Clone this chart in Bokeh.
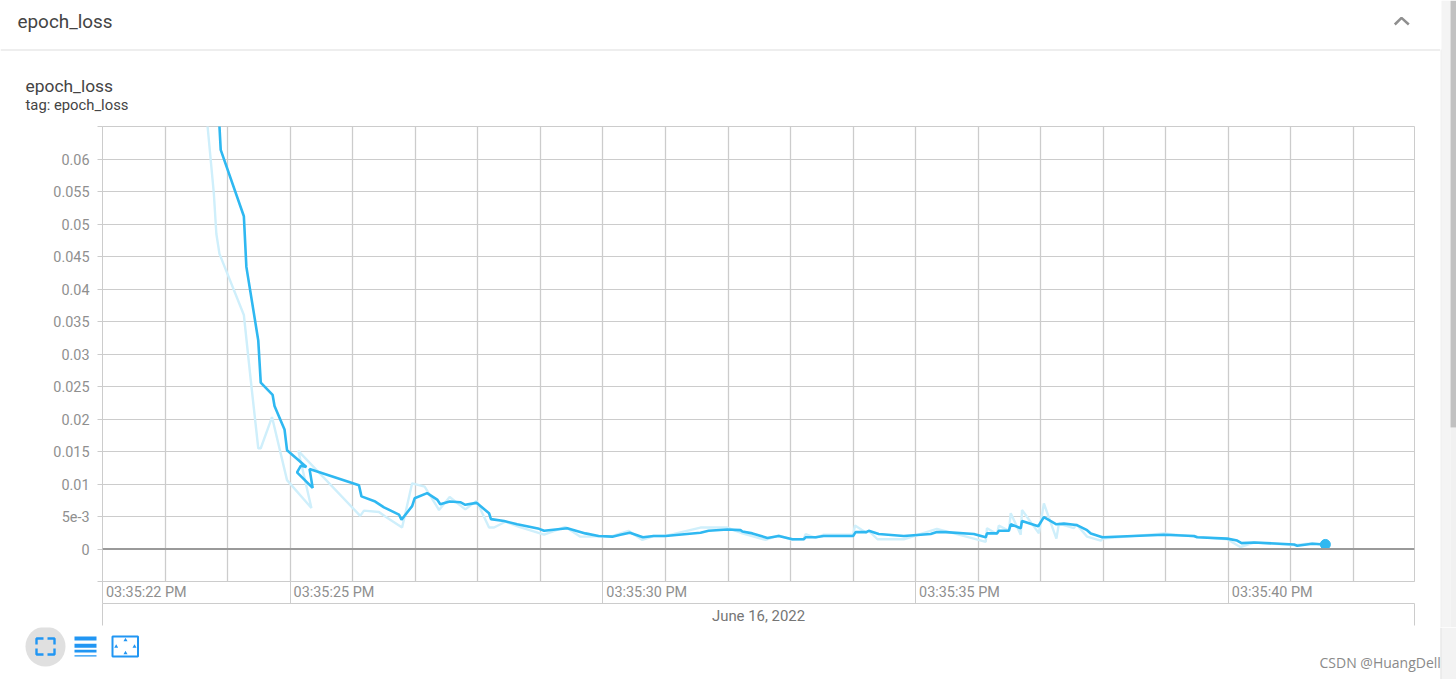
from datetime import datetime, timedelta
from bokeh.plotting import figure
from bokeh.layouts import column, row
from bokeh.models import (Range1d, DatetimeAxis, LinearAxis, Grid, FixedTicker, Span, DatetimeTickFormatter)
from bokeh.core.properties import value
from bokeh.embed import file_html
from bokeh.resources import INLINE

# seconds after 03:35:00 PM, June 16 2022 ; epoch_loss
smooth_t = [23.85,23.87,23.89,24.26,24.30,24.49,24.53,24.72,24.75,24.91,24.95,25.26,25.17,25.11,25.36,25.31,26.10,26.14,26.36,26.50,26.74,26.78,26.95,26.99,27.19,27.35,27.40,27.55,27.72,27.80,27.98,28.18,28.21,28.42,28.63,28.98,29.06,29.43,29.72,29.93,30.15,30.28,30.43,30.64,30.81,31.00,31.56,31.69,31.99,32.20,32.23,32.39,32.63,32.81,33.03,33.21,33.24,33.40,33.53,34.00,34.04,34.21,34.25,34.41,34.81,35.24,35.34,35.48,35.93,36.12,36.14,36.30,36.33,36.49,36.52,36.68,36.70,36.96,37.05,37.25,37.37,37.57,37.74,37.80,37.96,37.99,38.97,39.45,39.50,39.98,40.14,40.21,40.41,41.05,41.10,41.34,41.55]
smooth_v = [.0690,.0650,.0614,.0512,.0434,.0321,.0256,.0237,.0220,.0184,.0152,.0126,.0128,.0118,.0094,.0123,.0098,.0081,.0073,.0064,.0053,.0045,.0066,.0078,.0086,.0076,.0069,.0073,.0072,.0068,.0071,.0055,.0046,.0043,.0038,.0031,.0028,.0032,.0024,.0020,.0019,.0022,.0025,.0018,.0020,.0020,.0025,.0028,.0030,.0029,.0027,.0024,.0017,.0020,.0015,.0015,.0018,.0018,.0020,.0020,.0026,.0026,.0028,.0023,.0020,.0023,.0026,.0026,.0023,.0018,.0024,.0024,.0028,.0028,.0038,.0032,.0043,.0035,.0049,.0038,.0039,.0037,.0029,.0024,.0019,.0018,.0022,.0020,.0018,.0016,.0013,.0009,.0010,.0007,.0005,.0008,.0007]
raw_t = [23.65,23.68,23.78,23.82,23.87,24.26,24.37,24.49,24.53,24.71,24.95,25.34,25.13,26.12,26.18,26.42,26.52,26.79,26.95,27.15,27.38,27.55,27.80,27.98,28.18,28.26,28.44,28.66,29.06,29.40,29.64,29.80,29.93,30.12,30.41,30.63,30.81,31.00,31.56,31.99,32.23,32.60,32.81,33.03,33.21,33.24,33.40,33.53,34.00,34.03,34.21,34.25,34.39,34.81,35.34,35.93,36.12,36.14,36.30,36.33,36.49,36.52,36.68,36.70,36.97,37.05,37.25,37.29,37.53,37.57,37.74,37.96,37.99,38.97,39.45,39.98,40.19,40.41,41.05,41.34,41.55]
raw_v = [.0690,.0650,.0547,.0485,.0454,.0360,.0260,.0155,.0155,.0203,.0106,.0063,.0151,.0051,.0059,.0057,.0050,.0033,.0101,.0096,.0060,.0080,.0061,.0074,.0033,.0033,.0042,.0034,.0022,.0034,.0019,.0019,.0020,.0019,.0028,.0014,.0020,.0020,.0033,.0033,.0024,.0014,.0021,.0014,.0015,.0023,.0017,.0022,.0022,.0036,.0025,.0028,.0015,.0015,.0031,.0016,.0011,.0032,.0023,.0036,.0028,.0055,.0022,.0060,.0024,.0070,.0016,.0039,.0032,.0038,.0019,.0013,.0016,.0024,.0019,.0015,.0003,.0010,.0006,.0009,.0006]
y_ticks = [0, .005, .01, .015, .02, .025, .03, .035, .04, .045, .05, .055, .06]
y_labels = ["0", "5e-3", "0.01", "0.015", "0.02", "0.025", "0.03", "0.035", "0.04", "0.045", "0.05", "0.055", "0.06"]
y_limits = [-0.005, 0.065]
x_major_sec = [22, 25, 30, 35, 40]
x_grid_sec = list(range(23, 43))
x_end_sec = 42.975
title_text = "epoch_loss"
tag_text = "tag: epoch_loss"
date_text = "June 16, 2022"
watermark = "CSDN @HuangDell"

T0 = datetime(2022, 6, 16, 15, 35, 0)
def ts(s):
    return T0 + timedelta(seconds=s)
def ms(s):
    return (ts(s) - datetime(1970, 1, 1)).total_seconds() * 1000

DARK = "#2fb8f1"
LIGHT = "#cfeffb"
GRID = "#cccccc"
BLUE = "#2196f3"
BORDER = "#dddddd"
TICKTEXT = "#8f8f8f"
FONT = "Roboto"
LABEL_SHIFT = 0.70   # tick labels sit to the right of their tick line

def panel(w, h, x0, x1, y0, y1):
    return figure(width=w, height=h, x_range=Range1d(x0, x1), y_range=Range1d(y1, y0),
                  x_axis_type=None, y_axis_type=None, toolbar_location=None, output_backend="svg",
                  min_border=0, outline_line_color=None, frame_align=False)

# ---------- header and card title ----------
head = panel(1440, 120, 0, 1440, 0, 120)
head.text([17], [20.5], text=[title_text], text_font=value(FONT), text_font_size="18.9px",
          text_color="#444444", text_baseline="middle")
head.line([1394.3, 1401, 1408.3], [24, 17.3, 24], line_color="#8f8f8f", line_width=2.5)
head.quad(left=[0], right=[1440], top=[49], bottom=[50], fill_color=BORDER, line_color=None)
head.text([25], [85.5], text=[title_text], text_font=value(FONT), text_font_size="17.4px",
          text_color="#444444", text_baseline="middle")
head.text([25], [104.5], text=[tag_text], text_font=value(FONT), text_font_size="14.8px",
          text_color="#444444", text_baseline="middle")

# ---------- chart ----------
p = figure(width=1440, height=507, x_axis_type=None, y_axis_type=None,
           x_range=Range1d(ts(22), ts(x_end_sec)), y_range=Range1d(*y_limits),
           toolbar_location=None, output_backend="svg", frame_align=False,
           min_border_left=102, min_border_right=26, min_border_top=6, min_border_bottom=45,
           outline_line_color=GRID, background_fill_color="white", border_fill_color="white")

yax = LinearAxis(ticker=FixedTicker(ticks=y_ticks, minor_ticks=y_limits),
                 major_label_overrides=dict(zip(y_ticks, y_labels)),
                 major_label_text_font=FONT, major_label_text_font_size="14.4px",
                 major_label_text_color=TICKTEXT, major_tick_out=5, major_tick_in=0,
                 minor_tick_out=5, minor_tick_in=0,
                 major_tick_line_color=GRID, axis_line_color=GRID, minor_tick_line_color=GRID,
                 major_label_standoff=8)
p.add_layout(yax, "left")
p.add_layout(Grid(dimension=1, ticker=FixedTicker(ticks=y_ticks), grid_line_color=GRID, grid_line_width=1))
p.add_layout(Grid(dimension=0, ticker=FixedTicker(ticks=[ms(s) for s in x_grid_sec]),
                  grid_line_color=GRID, grid_line_width=1.3))

fmt = "%I:%M:%S %p"
xax = DatetimeAxis(ticker=FixedTicker(ticks=[ms(s + LABEL_SHIFT) for s in x_major_sec],
                                      minor_ticks=[ms(s) for s in x_major_sec]),
                   formatter=DatetimeTickFormatter(milliseconds=fmt, seconds=fmt, minsec=fmt, minutes=fmt),
                   major_label_text_font=FONT, major_label_text_font_size="14.4px",
                   major_label_text_color=TICKTEXT,
                   major_tick_out=22, major_tick_in=0, minor_tick_out=22, minor_tick_in=0,
                   major_tick_line_color=None, minor_tick_line_color=GRID, axis_line_color=GRID,
                   major_label_standoff=-20)
p.add_layout(xax, "below")
xax2 = DatetimeAxis(ticker=FixedTicker(ticks=[], minor_ticks=[ms(22), ms(x_end_sec)]),
                    major_tick_out=0, major_tick_in=0, minor_tick_out=22, minor_tick_in=0,
                    major_tick_line_color=GRID, minor_tick_line_color=GRID, axis_line_color=GRID,
                    axis_label=date_text, axis_label_text_font=FONT, axis_label_text_font_size="14.9px",
                    axis_label_text_font_style="normal", axis_label_text_color="#757575",
                    axis_label_standoff=-19, major_label_standoff=0)
p.add_layout(xax2, "below")

p.add_layout(Span(location=0, dimension="width", line_color="#9a9a9a", line_width=2))
p.line([ts(s) for s in raw_t], raw_v, line_color=LIGHT, line_width=2.4)
p.line([ts(s) for s in smooth_t], smooth_v, line_color=DARK, line_width=2.6)
p.scatter([ts(smooth_t[-1])], [smooth_v[-1]], size=10, fill_color=DARK, line_color=DARK)

# ---------- page scroll bar beside header and chart ----------
side = panel(16, 627, 1440, 1456, 0, 627)
side.quad(left=[1440], right=[1441], top=[49], bottom=[627], fill_color=BORDER, line_color=None)
side.quad(left=[1441], right=[1450], top=[0], bottom=[627], fill_color="#f4f4f4", line_color=None)
side.quad(left=[1450], right=[1456], top=[427], bottom=[627], fill_color="#f1f1f1", line_color=None)
side.quad(left=[1450], right=[1456], top=[0], bottom=[427], fill_color="#c1c1c1", line_color=None)

# ---------- footer ----------
foot = panel(1456, 52, 0, 1456, 627, 679)
foot.quad(left=[1441], right=[1456], top=[627], bottom=[679], fill_color="#f3f3f3", line_color=None)
foot.quad(left=[1440], right=[1441], top=[627], bottom=[679], fill_color=BORDER, line_color=None)
foot.scatter([45], [646], size=40, fill_color="#e0e0e0", line_color=None)
for xs, ys in [([36, 36, 43], [644, 638, 638]), ([47, 54, 54], [638, 638, 644]),
               ([36, 36, 43], [648, 654, 654]), ([47, 54, 54], [654, 654, 648])]:
    foot.line(xs, ys, line_color=BLUE, line_width=2.4)
foot.quad(left=[74, 74, 74, 74], right=[96, 96, 96, 96], top=[636, 643.3, 649.3, 654.7],
          bottom=[640, 647.3, 652, 656], fill_color=BLUE, line_color=None)
foot.quad(left=[112], right=[137.5], top=[636], bottom=[656], fill_color="white", line_color=BLUE, line_width=2)
foot.scatter([125, 125, 115.7, 134], [639.5, 652.5, 646, 646], size=4, fill_color=BLUE, line_color=None,
             marker="triangle")
foot.text([1319], [662], text=[watermark], text_font=value("Open Sans"), text_font_size="14px",
          text_color="#8a8a8a", text_baseline="middle")

page = column(row(column(head, p, spacing=0), side, spacing=0), foot, spacing=0)
open("out.html", "w").write(file_html(page, INLINE))
